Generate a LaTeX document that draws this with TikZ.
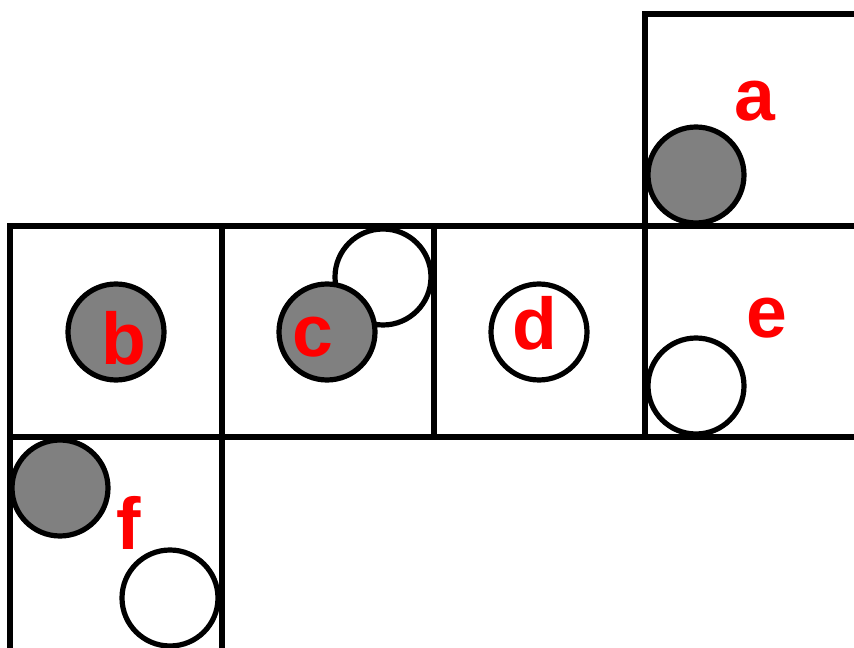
\documentclass[tikz,border=0pt]{standalone}
\usepackage{fontspec}
\setmainfont{Liberation Sans}
\begin{document}
\begin{tikzpicture}[x=0.75pt,y=-0.75pt,
  sq/.style={draw=black,line width=4.3pt},
  ball/.style={draw=black,line width=3.9pt,fill=ballgray},
  hole/.style={draw=black,line width=3.9pt,fill=white},
  lbl/.style={text=red,font=\fontsize{55}{55}\selectfont\bfseries,inner sep=0pt}]
\definecolor{ballgray}{HTML}{808080}
\useasboundingbox (0,0) rectangle (854,648);
\clip (0,0) rectangle (854,648);
\fill[white] (0,0) rectangle (854,648);
% squares
\draw[sq] (645,14) rectangle (858,226);
\draw[sq] (10,226) rectangle (222,437);
\draw[sq] (222,226) rectangle (434,437);
\draw[sq] (434,226) rectangle (645,437);
\draw[sq] (645,226) rectangle (858,437);
\draw[sq] (10,437) rectangle (222,651);
% circles
\draw[ball] (696,175) circle (48);
\draw[ball] (116,332) circle (48);
\draw[hole] (383,277) circle (48);
\draw[ball] (327,332) circle (48);
\draw[hole] (539,332) circle (48);
\draw[hole] (696,386) circle (48);
\draw[ball] (60,488) circle (48);
\draw[hole] (170,598) circle (48);
% labels
\node[lbl] (la) at (754.5,101.5) {a};
\node[lbl] (lb) at (124,338) {b};
\node[lbl] (lc) at (312.5,337.5) {c};
\node[lbl] (ld) at (534.5,323.5) {d};
\node[lbl] (le) at (767,318.5) {e};
\node[lbl] (lf) at (129,523) {f};
\end{tikzpicture}
\end{document}
